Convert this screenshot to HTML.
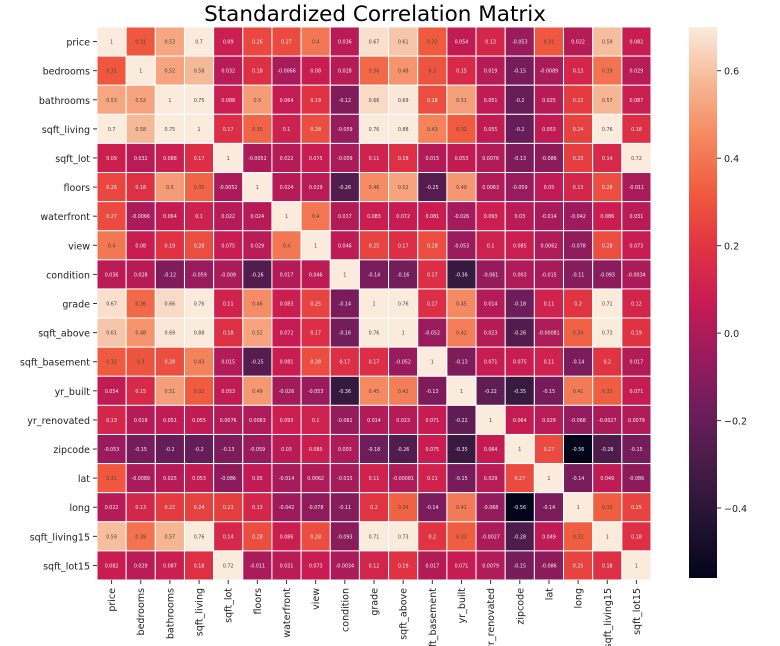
<!DOCTYPE html>
<html><head><meta charset="utf-8"><style>
body{margin:0;background:#fff;}
svg{display:block;font-family:"DejaVu Sans","Liberation Sans",sans-serif;}
</style></head><body>
<svg id="chart" width="780" height="646" viewBox="0 0 780 646">
<text x="375" y="21" text-anchor="middle" font-size="21.5" fill="#000">Standardized Correlation Matrix</text>
<defs><linearGradient id="cbg" x1="0" y1="1" x2="0" y2="0">
<stop offset="0" stop-color="#03051A"/><stop offset="0.1" stop-color="#221331"/><stop offset="0.2" stop-color="#451C47"/><stop offset="0.3" stop-color="#6B1D5A"/><stop offset="0.4" stop-color="#981B5D"/><stop offset="0.5" stop-color="#C71B53"/><stop offset="0.6" stop-color="#E13342"/><stop offset="0.7" stop-color="#F05B3F"/><stop offset="0.8" stop-color="#F58860"/><stop offset="0.9" stop-color="#F6B795"/><stop offset="1" stop-color="#FAEBDD"/>
</linearGradient></defs>
<g id="cells"></g><g id="labels"></g><g id="cbar"></g>
</svg>
<script>
const variables = ["price","bedrooms","bathrooms","sqft_living","sqft_lot","floors","waterfront","view","condition","grade","sqft_above","sqft_basement","yr_built","yr_renovated","zipcode","lat","long","sqft_living15","sqft_lot15"];
// upper triangle rows (from diagonal+1)
const upperRows = [
 [.31,.53,.7,.09,.26,.27,.4,.036,.67,.61,.32,.054,.13,-.053,.31,.022,.59,.082],
 [.52,.58,.032,.18,-.0066,.08,.028,.36,.48,.3,.15,.019,-.15,-.0089,.13,.39,.029],
 [.75,.088,.5,.064,.19,-.12,.66,.69,.28,.51,.051,-.2,.025,.22,.57,.087],
 [.17,.35,.1,.28,-.059,.76,.88,.43,.32,.055,-.2,.053,.24,.76,.18],
 [-.0052,.022,.075,-.009,.11,.18,.015,.053,.0076,-.13,-.086,.23,.14,.72],
 [.024,.029,-.26,.46,.52,-.25,.49,.0063,-.059,.05,.13,.28,-.011],
 [.4,.017,.083,.072,.081,-.026,.093,.03,-.014,-.042,.086,.031],
 [.046,.25,.17,.28,-.053,.1,.085,.0062,-.078,.28,.073],
 [-.14,-.16,.17,-.36,-.061,.003,-.015,-.11,-.093,-.0034],
 [.76,.17,.45,.014,-.18,.11,.2,.71,.12],
 [-.052,.42,.023,-.26,-.00081,.34,.73,.19],
 [-.13,.071,.075,.11,-.14,.2,.017],
 [-.22,-.35,-.15,.41,.33,.071],
 [.064,.029,-.068,-.0027,.0079],
 [.27,-.56,-.28,-.15],
 [-.14,.049,-.086],
 [.33,.25],
 [.18],
 []
];
const colorbarTicks = [0.6,0.4,0.2,0.0,-0.2,-0.4];
const vmin=-0.56, vmax=0.7;
const X0=97,Y0=27,W=554,H=553,N=variables.length,cw=W/N,ch=H/N;
const stops=[[0,"#03051A"],[0.1,"#221331"],[0.2,"#451C47"],[0.3,"#6B1D5A"],[0.4,"#981B5D"],[0.5,"#C71B53"],[0.6,"#E13342"],[0.7,"#F05B3F"],[0.8,"#F58860"],[0.9,"#F6B795"],[1,"#FAEBDD"]];
function hx(h){return [1,3,5].map(i=>parseInt(h.substr(i,2),16));}
function cmap(v){let t=(v-vmin)/(vmax-vmin);t=Math.max(0,Math.min(1,t));
 for(let i=1;i<stops.length;i++){if(t<=stops[i][0]){const a=hx(stops[i-1][1]),b=hx(stops[i][1]);const f=(t-stops[i-1][0])/(stops[i][0]-stops[i-1][0]);return a.map((c,k)=>Math.round(c+(b[k]-c)*f));}}return hx(stops[10][1]);}
function val(i,j){if(i===j)return 1;if(i>j){[i,j]=[j,i];}return upperRows[i][j-i-1];}
function fmt(v){if(v===1)return "1";let s=String(Number(v.toPrecision(2)));return s;}
const NS="http://www.w3.org/2000/svg";
const cells=document.getElementById('cells'),labels=document.getElementById('labels'),cbar=document.getElementById('cbar');
function mk(tag,attrs,parent){const e=document.createElementNS(NS,tag);for(const k in attrs)e.setAttribute(k,attrs[k]);parent.appendChild(e);return e;}
function xs(j){return X0+j*cw;} function ys(i){return Y0+i*ch;}
for(let i=0;i<N;i++)for(let j=0;j<N;j++){
 const v=val(i,j);const c=cmap(v);
 const r=mk('rect',{x:xs(j),y:ys(i),width:cw,height:ch,fill:`rgb(${c})`,stroke:'#fff','stroke-width':1},cells);
 
 
 const lum=(0.2126*c[0]+0.7152*c[1]+0.0722*c[2])/255;
 const t=mk('text',{x:xs(j)+cw/2,y:ys(i)+ch/2+2,'text-anchor':'middle','font-size':4.8,fill:lum>0.45?'#444':'#f4f4f4'},cells);
 t.textContent=fmt(v);
 
 
}
variables.forEach((n,i)=>{
 mk('line',{x1:X0-4,x2:X0,y1:ys(i)+ch/2,y2:ys(i)+ch/2,stroke:'#333'},labels);
 const t=mk('text',{x:X0-7,y:ys(i)+ch/2+4,'text-anchor':'end','font-size':9.5,fill:'#222'},labels);
 t.textContent=n;
 
 
 const cx=xs(i)+cw/2;
 mk('line',{x1:cx,x2:cx,y1:Y0+H,y2:Y0+H+4,stroke:'#333'},labels);
 const u=mk('text',{x:0,y:0,'text-anchor':'end','font-size':9.5,fill:'#222',transform:`translate(${cx+3.5},${Y0+H+8}) rotate(-90)`},labels);
 u.textContent=n;
 
 
});
const CX=689,CW=28,CY=27,CH=551;
const cb=mk('rect',{x:CX,y:CY,width:CW,height:CH,fill:'url(#cbg)'},cbar);


function cy(v){return CY+CH-(v-vmin)/(vmax-vmin)*CH;}
colorbarTicks.forEach(v=>{
 const y=cy(v);
 mk('line',{x1:CX+CW,x2:CX+CW+4,y1:y,y2:y,stroke:'#333'},cbar);
 const t=mk('text',{x:CX+CW+7,y:y+4,'font-size':9.5,fill:'#222'},cbar);
 t.textContent=v<0?'\u2212'+Math.abs(v).toFixed(1):v.toFixed(1);
 
 
});
</script>
</body></html>
